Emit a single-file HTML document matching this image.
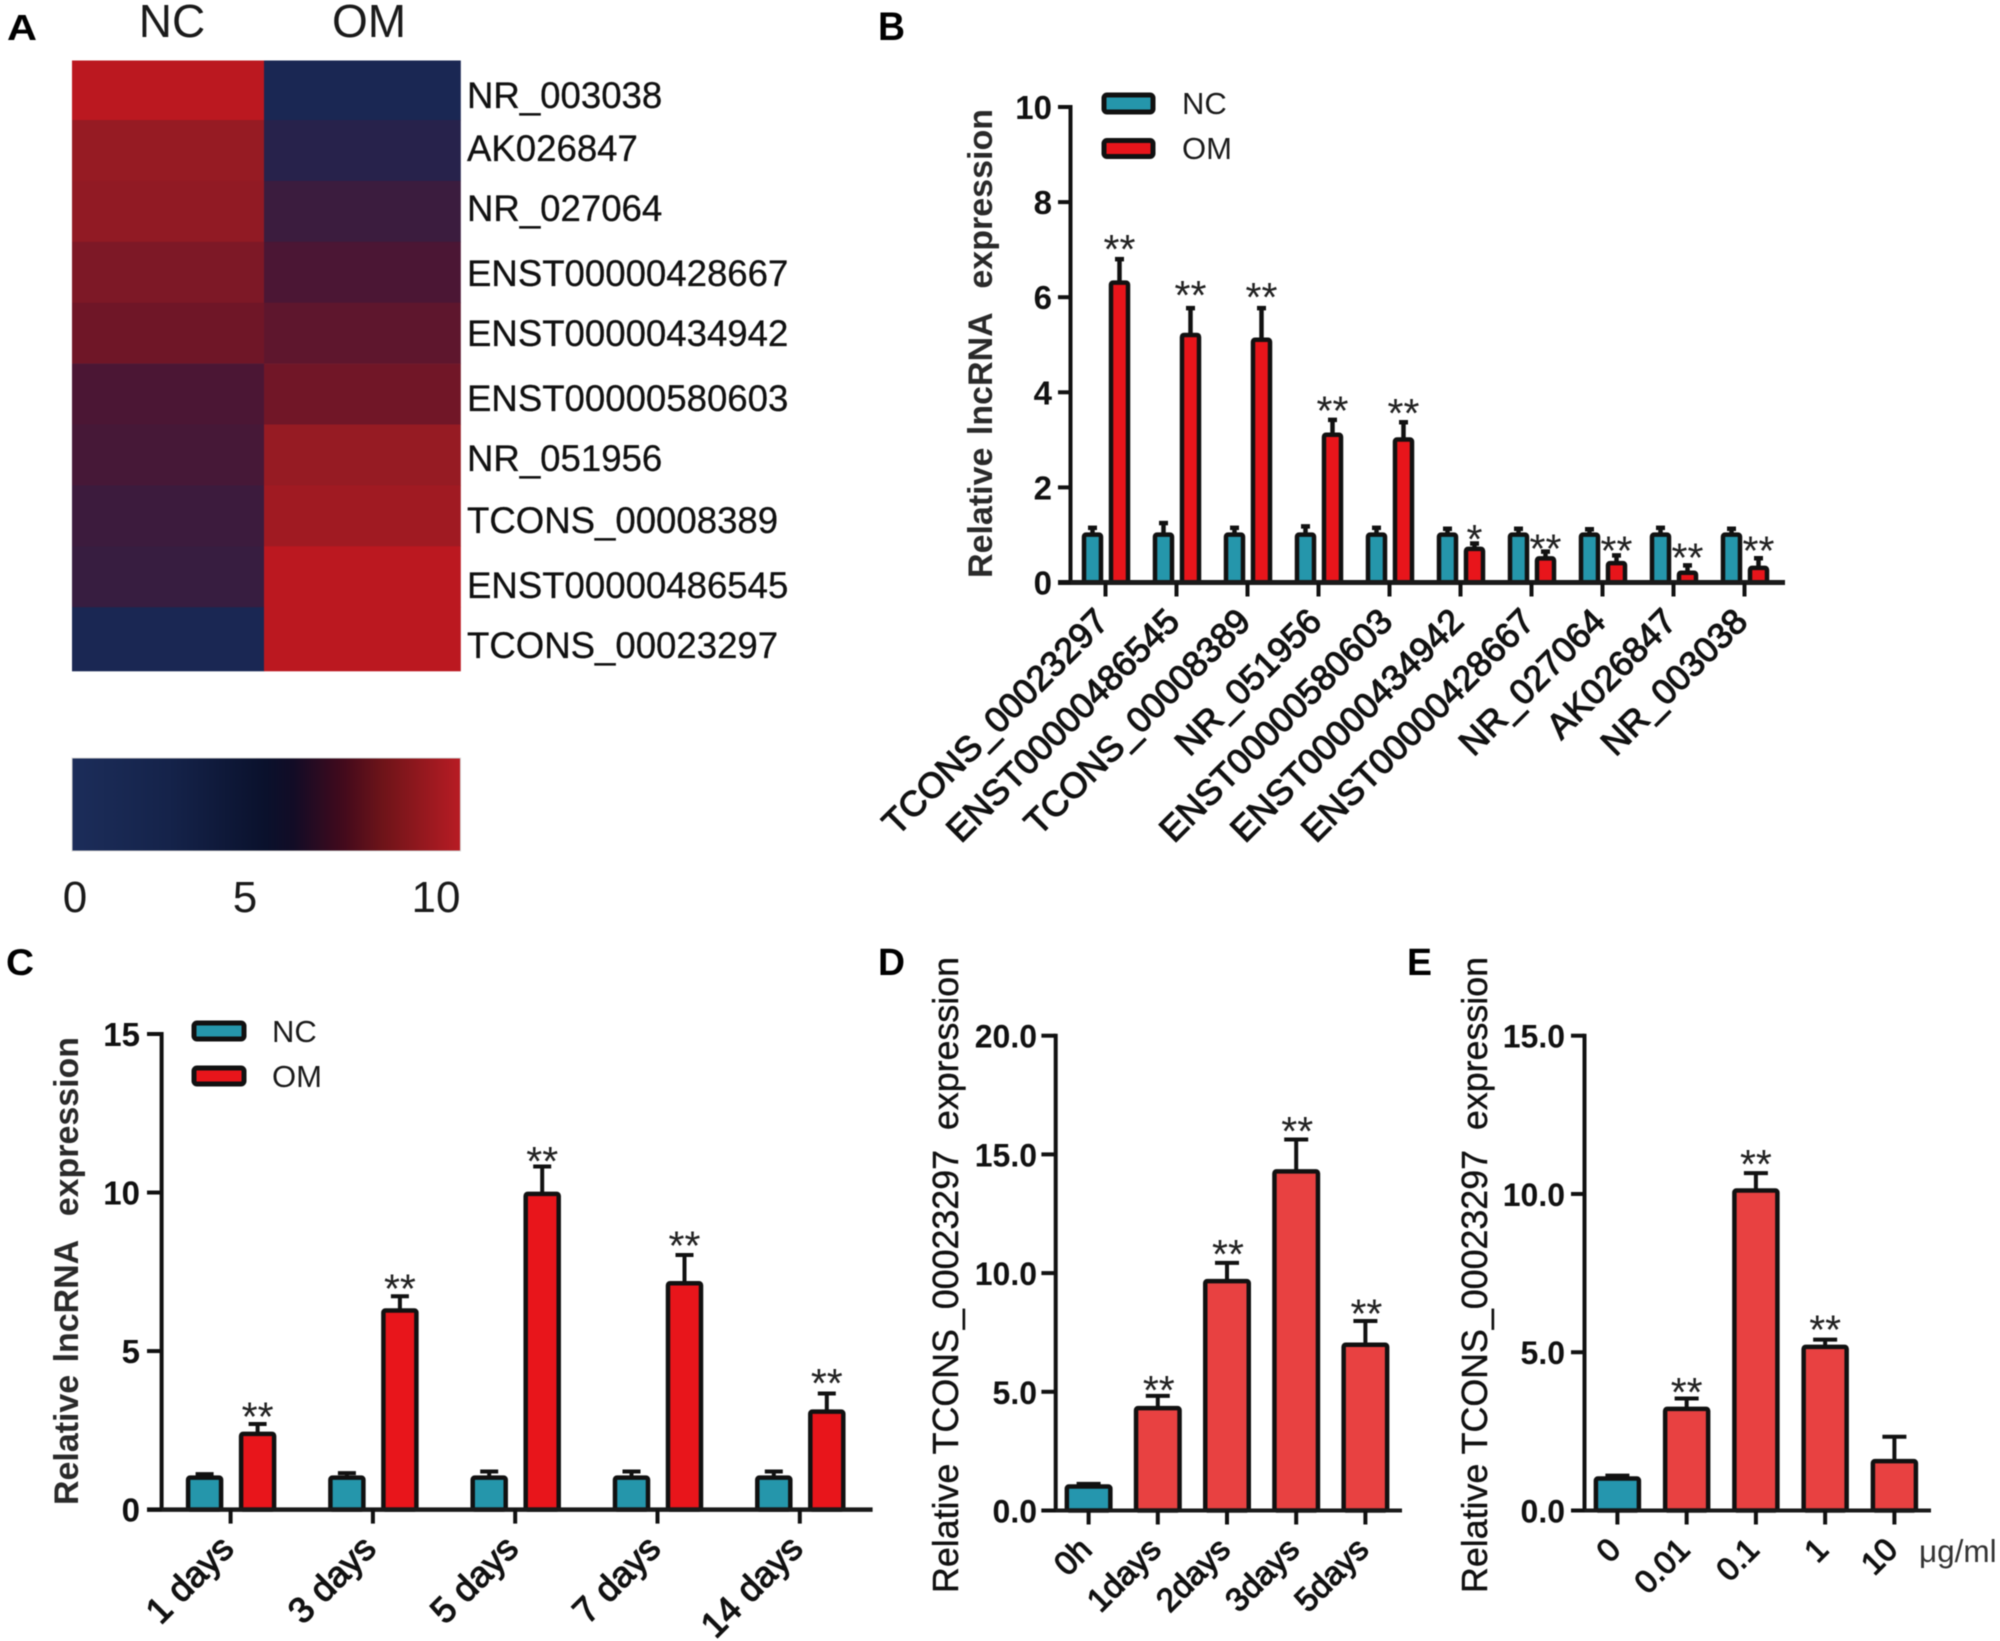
<!DOCTYPE html>
<html lang="en">
<head>
<meta charset="utf-8">
<title>lncRNA expression figure</title>
<style>
html,body{margin:0;padding:0;background:#fff;}
svg{display:block;filter:blur(0.6px);font-family:"Liberation Sans",sans-serif;}
text{white-space:pre;}
</style>
</head>
<body>
<svg id="figure" xmlns="http://www.w3.org/2000/svg" width="2000" height="1641" viewBox="0 0 2000 1641">
<defs>
<linearGradient id="colorbar-gradient" x1="0" x2="1" y1="0" y2="0">
<stop offset="0" stop-color="#1c2d5a"/>
<stop offset="0.25" stop-color="#15234a"/>
<stop offset="0.5" stop-color="#0a112c"/>
<stop offset="0.57" stop-color="#120c26"/>
<stop offset="0.7" stop-color="#430a1c"/>
<stop offset="0.8" stop-color="#6e1419"/>
<stop offset="1" stop-color="#b81c24"/>
</linearGradient>
</defs>
<rect width="2000" height="1641" fill="#fff"/>

<text x="7" y="40" font-size="36" font-weight="700" textLength="30" lengthAdjust="spacingAndGlyphs">A</text>
<text x="878" y="40" font-size="40" font-weight="700" textLength="27" lengthAdjust="spacingAndGlyphs">B</text>
<text x="6" y="975" font-size="37" font-weight="700" textLength="28" lengthAdjust="spacingAndGlyphs">C</text>
<text x="878" y="975" font-size="38" font-weight="700" textLength="27" lengthAdjust="spacingAndGlyphs">D</text>
<text x="1407" y="975" font-size="38" font-weight="700" textLength="25" lengthAdjust="spacingAndGlyphs">E</text>

<g id="panel-a">
<text x="172" y="37" font-size="46" text-anchor="middle" fill="#1a1a1a">NC</text>
<text x="369" y="37" font-size="46" text-anchor="middle" fill="#1a1a1a">OM</text>
<g id="heatmap-cells"></g>
<g font-size="36.6" fill="#111" stroke="#111" stroke-width="0.3">
<text x="467" y="108">NR_003038</text>
<text x="467" y="161">AK026847</text>
<text x="467" y="221">NR_027064</text>
<text x="467" y="286">ENST00000428667</text>
<text x="467" y="346">ENST00000434942</text>
<text x="467" y="411">ENST00000580603</text>
<text x="467" y="471">NR_051956</text>
<text x="467" y="533">TCONS_00008389</text>
<text x="467" y="598">ENST00000486545</text>
<text x="467" y="658">TCONS_00023297</text>
</g>
<rect x="72" y="758" width="388.5" height="93" fill="url(#colorbar-gradient)" stroke="#d8d8d8" stroke-width="1"/>
<text x="75" y="912" font-size="44" text-anchor="middle" fill="#1a1a1a">0</text>
<text x="245" y="912" font-size="44" text-anchor="middle" fill="#1a1a1a">5</text>
<text x="436" y="912" font-size="44" text-anchor="middle" fill="#1a1a1a">10</text>
</g>

<g id="panel-b">
<text transform="translate(992 578) rotate(-90)" font-size="34" font-weight="700" word-spacing="3" fill="#2a2a2a" textLength="469" lengthAdjust="spacingAndGlyphs">Relative lncRNA  expression</text>
<rect x="1104" y="95" width="49" height="17" rx="3" fill="#2596ab" stroke="#111" stroke-width="5"/>
<rect x="1104" y="140.5" width="49" height="16" rx="3" fill="#e8151b" stroke="#111" stroke-width="5"/>
<text x="1182" y="114" font-size="31" fill="#1a1a1a">NC</text>
<text x="1182" y="159" font-size="31" fill="#1a1a1a">OM</text>
</g>

<g id="panel-c">
<text transform="translate(78 1505) rotate(-90)" font-size="34" font-weight="700" word-spacing="3" fill="#2a2a2a" textLength="468" lengthAdjust="spacingAndGlyphs">Relative lncRNA  expression</text>
<rect x="194" y="1023" width="50" height="16" rx="3" fill="#2596ab" stroke="#111" stroke-width="5"/>
<rect x="194" y="1068" width="50" height="16" rx="3" fill="#e8151b" stroke="#111" stroke-width="5"/>
<text x="272" y="1042" font-size="31" fill="#1a1a1a">NC</text>
<text x="272" y="1087" font-size="31" fill="#1a1a1a">OM</text>
</g>

<g id="panel-d">
<text transform="translate(958 1593) rotate(-90)" font-size="36" fill="#111" stroke="#111" stroke-width="0.4" textLength="636" lengthAdjust="spacingAndGlyphs">Relative TCONS_00023297  expression</text>
</g>

<g id="panel-e">
<text transform="translate(1487 1593) rotate(-90)" font-size="36" fill="#111" stroke="#111" stroke-width="0.4" textLength="636" lengthAdjust="spacingAndGlyphs">Relative TCONS_00023297  expression</text>
<text x="1919" y="1562" font-size="31.5" fill="#333">μg/ml</text>
</g>
</svg>

<script>
// Panel A data (heat level on a 0-10 scale)
const heatGenes = ['NR_003038','AK026847','NR_027064','ENST00000428667','ENST00000434942','ENST00000580603','NR_051956','TCONS_00008389','ENST00000486545','TCONS_00023297'];
const heatNC = [10, 7.7, 7.4, 6.3, 5.5, 3, 2.7, 2.1, 1.8, 0];
const heatOM = [0, 0.8, 2, 3, 4.3, 5.6, 7.7, 8.3, 10, 10];

// Panel B data
const bCategories = ['TCONS_00023297','ENST00000486545','TCONS_00008389','NR_051956','ENST00000580603','ENST00000434942','ENST00000428667','NR_027064','AK026847','NR_003038'];
const bNC = [1, 1, 1, 1, 1, 1, 1, 1, 1, 1];
const bNCErr = [1.15, 1.25, 1.15, 1.18, 1.15, 1.13, 1.13, 1.12, 1.15, 1.13];
const bOM = [6.3, 5.2, 5.1, 3.1, 3.0, 0.7, 0.5, 0.4, 0.2, 0.3];
const bOMErr = [6.8, 5.77, 5.77, 3.42, 3.37, 0.82, 0.65, 0.57, 0.36, 0.51];
const bStars = ['**','**','**','**','**','*','**','**','**','**'];
const bStarLevels = [7.12, 6.15, 6.11, 3.72, 3.67, 1.02, 0.82, 0.78, 0.63, 0.78];
const bTicks = [0, 2, 4, 6, 8, 10];

// Panel C data
const cCategories = ['1 days','3 days','5 days','7 days','14 days'];
const cNC = [1, 1, 1, 1, 1];
const cNCErr = [1.12, 1.15, 1.2, 1.2, 1.2];
const cOM = [2.38, 6.27, 9.95, 7.13, 3.08];
const cOMErr = [2.7, 6.73, 10.82, 8.03, 3.66];
const cStars = ['**','**','**','**','**'];
const cStarLevels = [3.09, 7.13, 11.16, 8.49, 4.15];
const cTicks = [0, 5, 10, 15];

// Panel D data
const dCategories = ['0h','1days','2days','3days','5days'];
const dValues = [1.0, 4.3, 9.65, 14.27, 6.97];
const dErr = [1.12, 4.83, 10.43, 15.63, 7.98];
const dStars = ['','**','**','**','**'];
const dStarLevels = [0, 5.29, 11.02, 16.2, 8.5];
const dTicks = [0, 5, 10, 15, 20];

// Panel E data
const eCategories = ['0','0.01','0.1','1','10'];
const eValues = [1.0, 3.2, 10.1, 5.16, 1.55];
const eErr = [1.1, 3.54, 10.66, 5.4, 2.33];
const eStars = ['','**','**','**',''];
const eStarLevels = [0, 3.9, 11.1, 5.87, 0];
const eTicks = [0, 5, 10, 15];

const SVG_NS = 'http://www.w3.org/2000/svg';
const TEAL = '#2596ab';
const RED = '#e8151b';
const TEAL2 = '#2596ae';
const RED2 = '#e84141';

function svgEl(tag, attrs, parent) {
  const el = document.createElementNS(SVG_NS, tag);
  Object.keys(attrs).forEach(function (k) { el.setAttribute(k, attrs[k]); });
  parent.appendChild(el);
  return el;
}
function slug(s) {
  return String(s).toLowerCase().replace(/[^a-z0-9]+/g, '-');
}

// ---------- heatmap ----------
const heatStops = [[0, [26, 39, 83]], [3, [75, 22, 52]], [5.5, [111, 22, 39]], [7.7, [150, 27, 35]], [10, [187, 24, 32]]];
function heatColor(v) {
  const t = Math.max(0, Math.min(10, v));
  let hi = 1;
  while (hi < heatStops.length - 1 && t > heatStops[hi][0]) hi++;
  const a = heatStops[hi - 1], b = heatStops[hi];
  const f = (t - a[0]) / (b[0] - a[0]);
  const c = a[1].map(function (ch, i) { return Math.round(ch + (b[1][i] - ch) * f); });
  return 'rgb(' + c.join(',') + ')';
}
function drawHeatmap() {
  const g = document.getElementById('heatmap-cells');
  const top = 60.5, bottom = 671;
  const colEdges = [72, 264, 460.5];
  const rowH = 60.9;
  const rowTop = function (r) {
    if (r <= 0) return top;
    if (r >= heatGenes.length) return bottom;
    return top - 1.4 + r * rowH;
  };
  [heatNC, heatOM].forEach(function (col, c) {
    col.forEach(function (v, r) {
      const cell = svgEl('rect', {
        x: colEdges[c],
        y: rowTop(r),
        width: colEdges[c + 1] - colEdges[c] + 0.3,
        height: rowTop(r + 1) - rowTop(r) + 0.3,
        fill: heatColor(v)
      }, g);
      
      
    });
  });
}

// ---------- bar panels ----------
function drawPanel(cfg) {
  const g = document.getElementById('panel-' + cfg.key);
  const yOf = function (v) { return cfg.y0 - v * (cfg.y0 - cfg.yTop) / cfg.yMax; };
  const xOf = function (i) { return cfg.x0 + i * cfg.step; };

  // bars and error bars
  cfg.series.forEach(function (s) {
    s.values.forEach(function (v, i) {
      const colorFill = s.colorAt ? s.colorAt(i) : s.color;
      const cx = xOf(i) + s.offset;
      const errLine = svgEl('line', { x1: cx, x2: cx, y1: yOf(v), y2: yOf(s.errors[i]), stroke: '#111', 'stroke-width': cfg.errWidth }, g);
      
      
      const errCap = svgEl('line', { x1: cx - cfg.capW / 2, x2: cx + cfg.capW / 2, y1: yOf(s.errors[i]), y2: yOf(s.errors[i]), stroke: '#111', 'stroke-width': cfg.errWidth }, g);
      
      
      const bar = svgEl('rect', {
        x: cx - (cfg.barW - 4) / 2,
        y: yOf(v) - 0.3,
        width: cfg.barW - 4,
        height: Math.max(0, cfg.y0 - yOf(v) + 0.3),
        rx: 2,
        fill: colorFill,
        stroke: '#111',
        'stroke-width': 4.5
      }, g);
      
      
    });
  });

  // axes
  const yAxis = svgEl('line', { x1: cfg.axisX, x2: cfg.axisX, y1: cfg.yTop - 2, y2: cfg.y0, stroke: '#111', 'stroke-width': 4 }, g);
  
  
  const xAxis = svgEl('line', { x1: cfg.tickLeft, x2: cfg.xEnd, y1: cfg.y0, y2: cfg.y0, stroke: '#1a1a1a', 'stroke-width': cfg.xAxisWidth }, g);
  
  

  cfg.ticks.forEach(function (t) {
    const tick = svgEl('line', { x1: cfg.tickLeft, x2: cfg.axisX, y1: yOf(t), y2: yOf(t), stroke: '#111', 'stroke-width': 4 }, g);
    
    
    const lab = svgEl('text', { x: cfg.tickLabelRight, y: yOf(t) + 12, 'font-size': cfg.tickFont, 'font-weight': 700, 'text-anchor': 'end', fill: '#111' }, g);
    lab.textContent = cfg.tickFormat(t);
    
    
  });

  // x ticks and labels
  cfg.categories.forEach(function (c, i) {
    const tx = xOf(i);
    const tick = svgEl('line', { x1: tx, x2: tx, y1: cfg.y0, y2: cfg.y0 + 14, stroke: '#111', 'stroke-width': 4 }, g);
    
    
    const lx = tx + 5, ly = cfg.y0 + 41;
    const lab = svgEl('text', { x: lx, y: ly, 'font-size': cfg.xFont, 'text-anchor': 'end', fill: '#111', stroke: '#111', 'stroke-width': 1.1, transform: 'rotate(-45 ' + lx + ' ' + ly + ')' }, g);
    lab.textContent = c;
    
    
  });

  // significance stars
  cfg.stars.forEach(function (mark, i) {
    if (!mark) return;
    const star = svgEl('text', { x: xOf(i) + cfg.starOffset, y: yOf(cfg.starLevels[i]) + 19, 'font-size': 41, 'text-anchor': 'middle', fill: '#222' }, g);
    star.textContent = mark;
    
    
  });
}

drawHeatmap();

drawPanel({
  key: 'b', categories: bCategories, ticks: bTicks, stars: bStars, starLevels: bStarLevels,
  tickFormat: function (t) { return String(t); },
  axisX: 1070.5, tickLeft: 1058, xEnd: 1785, y0: 582.5, yTop: 107, yMax: 10,
  x0: 1105.5, step: 71, barW: 21, capW: 9, errWidth: 4.5, starOffset: 14, xAxisWidth: 5,
  tickLabelRight: 1052, tickFont: 33, xFont: 35.5,
  series: [
    { name: 'nc', color: TEAL, values: bNC, errors: bNCErr, offset: -13 },
    { name: 'om', color: RED, values: bOM, errors: bOMErr, offset: 14 }
  ]
});

drawPanel({
  key: 'c', categories: cCategories, ticks: cTicks, stars: cStars, starLevels: cStarLevels,
  tickFormat: function (t) { return String(t); },
  axisX: 161.6, tickLeft: 147, xEnd: 872.6, y0: 1509.6, yTop: 1034, yMax: 15,
  x0: 230.6, step: 142.3, barW: 37, capW: 18, errWidth: 4, starOffset: 27, xAxisWidth: 4.5,
  tickLabelRight: 140, tickFont: 33, xFont: 36,
  series: [
    { name: 'nc', color: TEAL, values: cNC, errors: cNCErr, offset: -26 },
    { name: 'om', color: RED, values: cOM, errors: cOMErr, offset: 27 }
  ]
});

drawPanel({
  key: 'd', categories: dCategories, ticks: dTicks, stars: dStars, starLevels: dStarLevels,
  tickFormat: function (t) { return t.toFixed(1); },
  axisX: 1055.7, tickLeft: 1041.4, xEnd: 1402, y0: 1510.5, yTop: 1035.7, yMax: 20,
  x0: 1088.6, step: 69.2, barW: 47.5, capW: 24, errWidth: 4, starOffset: 1, xAxisWidth: 4,
  tickLabelRight: 1037, tickFont: 32, xFont: 33,
  series: [
    { name: 'value', colorAt: function (i) { return i === 0 ? TEAL2 : RED2; }, values: dValues, errors: dErr, offset: 0 }
  ]
});

drawPanel({
  key: 'e', categories: eCategories, ticks: eTicks, stars: eStars, starLevels: eStarLevels,
  tickFormat: function (t) { return t.toFixed(1); },
  axisX: 1584.5, tickLeft: 1571, xEnd: 1931, y0: 1510.5, yTop: 1035.7, yMax: 15,
  x0: 1617.4, step: 69.25, barW: 47, capW: 24, errWidth: 4, starOffset: 0, xAxisWidth: 4,
  tickLabelRight: 1565, tickFont: 32, xFont: 32,
  series: [
    { name: 'value', colorAt: function (i) { return i === 0 ? TEAL2 : RED2; }, values: eValues, errors: eErr, offset: 0 }
  ]
});
</script>
</body>
</html>
